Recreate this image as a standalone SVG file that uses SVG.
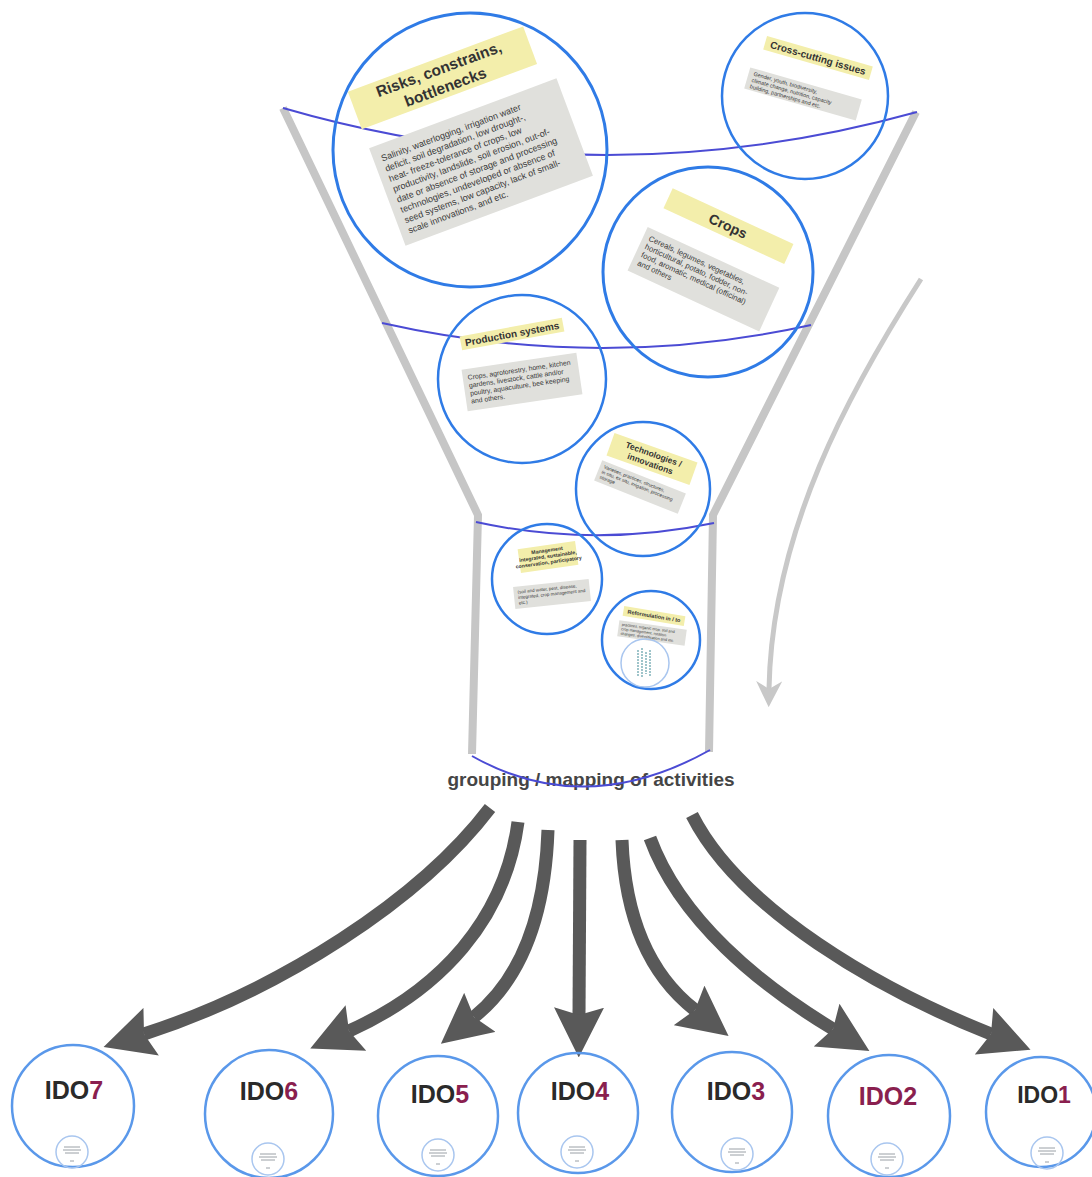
<svg xmlns="http://www.w3.org/2000/svg" xmlns:xlink="http://www.w3.org/1999/xlink" width="1092" height="1177" viewBox="0 0 1092 1177">
<style>
.funnel{fill:none;stroke:#c6c6c6;stroke-width:8;stroke-linejoin:miter}
.band{fill:none;stroke:#4b4bd4;stroke-width:2}
.ring{fill:none;stroke:#2f7be6;stroke-width:3}
.ring2{fill:none;stroke:#2f7be6;stroke-width:2.5}
.ido{fill:none;stroke:#5a98ea;stroke-width:2.5}
.inner{fill:none;stroke:#a9c6ef;stroke-width:1.5}
.lbl{fill:#f3eeab}
.box{fill:#e0e0dc}
.h{font-family:"Liberation Sans",Arial,sans-serif;font-weight:bold;fill:#333;text-anchor:middle}
.b{font-family:"Liberation Sans",Arial,sans-serif;fill:#3a3a3a}
.flow{fill:none;stroke:#595959;stroke-width:13}
.curve{fill:none;stroke:#c8c8c8;stroke-width:5}
.idt{font-family:"Liberation Sans",Arial,sans-serif;font-weight:bold;font-size:25px;fill:#2a2a2a;text-anchor:middle}
.n{fill:#8a1f4f}
.grp{font-family:"Liberation Sans",Arial,sans-serif;font-weight:bold;font-size:19px;fill:#454545;text-anchor:middle}
.mk{stroke:#9aa0a6;stroke-width:1}
</style>
<defs>
<marker id="ah" viewBox="0 0 20 20" markerUnits="userSpaceOnUse" markerWidth="50" markerHeight="50" refX="3" refY="10" orient="auto">
<path d="M0,0 L20,10 L0,20 L3,10 z" fill="#595959"/>
</marker>
<marker id="ah2" viewBox="0 0 10 10" markerUnits="userSpaceOnUse" markerWidth="26" markerHeight="26" refX="3" refY="5" orient="auto">
<path d="M0,0 L10,5 L0,10 L3,5 z" fill="#c8c8c8"/>
</marker>
<g id="mini">
<circle class="inner" cx="0" cy="0" r="16"/>
<path class="mk" d="M-8,-5 H8 M-9,-2 H9 M-7,1 H7 M-2,9 H2"/>
</g>
</defs>

<g id="funnel">
<polyline class="funnel" points="283,108 478,515 472,754"/>
<polyline class="funnel" points="916,112 713,515 709,752"/>
</g>

<text class="grp" x="591" y="786">grouping / mapping of activities</text>

<g id="bands">
<path class="band" d="M283,108 Q600,200 917,112"/>
<path class="band" d="M382,323 Q600,372 811,325"/>
<path class="band" d="M476,522 Q595,548 714,523"/>
<path class="band" d="M472,756 Q585,820 710,750"/>
</g>

<g id="risks">
<circle class="ring" cx="470" cy="150" r="137"/>
<g transform="translate(442,78) rotate(-20.4)">
<rect class="lbl" x="-93" y="-20" width="187" height="40"/>
<text class="h" font-size="15.5"><tspan x="0" y="-4">Risks, constrains,</tspan><tspan x="0" y="15">bottlenecks</tspan></text>
</g>
<g transform="translate(481,162) rotate(-20.5)">
<rect class="box" x="-100" y="-52" width="200" height="104"/>
<text class="b" font-size="9">
<tspan x="-92" y="-35">Salinity, waterlogging, irrigation water</tspan>
<tspan x="-92" y="-24">deficit, soil degradation, low drought-,</tspan>
<tspan x="-92" y="-13">heat- freeze-tolerance of crops, low</tspan>
<tspan x="-92" y="-2">productivity, landslide, soil erosion, out-of-</tspan>
<tspan x="-92" y="9">date or absence of storage and processing</tspan>
<tspan x="-92" y="20">technologies, undeveloped or absence of</tspan>
<tspan x="-92" y="31">seed systems, low capacity, lack of small-</tspan>
<tspan x="-92" y="42">scale innovations, and etc.</tspan>
</text>
</g>
</g>

<g id="cross-cutting">
<circle class="ring2" cx="805" cy="96" r="83"/>
<g transform="translate(818,58) rotate(16)">
<rect class="lbl" x="-55" y="-7" width="110" height="14"/>
<text class="h" font-size="10" x="0" y="3.5">Cross-cutting issues</text>
</g>
<g transform="translate(803,94) rotate(16)">
<rect class="box" x="-58" y="-11" width="116" height="22"/>
<text class="b" font-size="5.5">
<tspan x="-53" y="-4">Gender, youth, biodiversity,</tspan>
<tspan x="-53" y="2.5">climate change, nutrition, capacity</tspan>
<tspan x="-53" y="9">building, partnerships and etc.</tspan>
</text>
</g>
</g>

<g id="crops">
<circle class="ring" cx="708" cy="272" r="105"/>
<g transform="translate(728,226) rotate(24.8)">
<rect class="lbl" x="-66" y="-11" width="133" height="22"/>
<text class="h" font-size="14" x="0" y="5">Crops</text>
</g>
<g transform="translate(703,279) rotate(24.8)">
<rect class="box" x="-72" y="-24" width="145" height="48"/>
<text class="b" font-size="7.8">
<tspan x="-66" y="-12">Cereals, legumes, vegetables,</tspan>
<tspan x="-66" y="-3">horticultural, potato, fodder, non-</tspan>
<tspan x="-66" y="6">food, aromatic, medical (officinal)</tspan>
<tspan x="-66" y="15">and others</tspan>
</text>
</g>
</g>

<g id="production-systems">
<circle class="ring2" cx="522" cy="379" r="84"/>
<g transform="translate(512,334) rotate(-10.5)">
<rect class="lbl" x="-52" y="-7" width="104" height="14"/>
<text class="h" font-size="10" x="0" y="3.5">Production systems</text>
</g>
<g transform="translate(522,382) rotate(-8.4)">
<rect class="box" x="-58" y="-21" width="116" height="42"/>
<text class="b" font-size="6.8">
<tspan x="-53" y="-10">Crops, agroforestry, home, kitchen</tspan>
<tspan x="-53" y="-2">gardens, livestock, cattle and/or</tspan>
<tspan x="-53" y="6">poultry, aquaculture, bee keeping</tspan>
<tspan x="-53" y="14">and others.</tspan>
</text>
</g>
</g>

<g id="technologies">
<circle class="ring2" cx="643" cy="489" r="67"/>
<g transform="translate(652,459) rotate(19.5)">
<rect class="lbl" x="-44" y="-12" width="88" height="24"/>
<text class="h" font-size="8.5"><tspan x="0" y="-2">Technologies /</tspan><tspan x="0" y="8">innovations</tspan></text>
</g>
<g transform="translate(640,487) rotate(21.7)">
<rect class="box" x="-45" y="-11" width="90" height="22"/>
<text class="b" font-size="4.8">
<tspan x="-41" y="-4">Varieties, practices, structures,</tspan>
<tspan x="-41" y="1.5">in situ, ex situ, irrigation, processing</tspan>
<tspan x="-41" y="7">storage</tspan>
</text>
</g>
</g>

<g id="management">
<circle class="ring2" cx="547" cy="579" r="55"/>
<g transform="translate(548,557) rotate(-8)">
<rect class="lbl" x="-29" y="-12" width="58" height="24"/>
<text class="h" font-size="5.2"><tspan x="0" y="-5">Management</tspan><tspan x="0" y="1">integrated, sustainable,</tspan><tspan x="0" y="7">conservation, participatory</tspan></text>
</g>
<g transform="translate(552,594) rotate(-6)">
<rect class="box" x="-38" y="-11" width="76" height="22"/>
<text class="b" font-size="4.5">
<tspan x="-34" y="-4">(soil and water, pest, disease,</tspan>
<tspan x="-34" y="1.5">integrated, crop management and</tspan>
<tspan x="-34" y="7">etc.)</tspan>
</text>
</g>
</g>

<g id="reformulation">
<circle class="ring2" cx="651" cy="640" r="49"/>
<g transform="translate(654,616) rotate(9.5)">
<rect class="lbl" x="-31" y="-5" width="62" height="10"/>
<text class="h" font-size="5.5" x="0" y="2">Reformulation in / to</text>
</g>
<g transform="translate(652,633) rotate(8)">
<rect class="box" x="-34" y="-8" width="68" height="16"/>
<text class="b" font-size="3.8">
<tspan x="-31" y="-3">practices, organic crop, soil and</tspan>
<tspan x="-31" y="1.5">crop management, rotation</tspan>
<tspan x="-31" y="6">changes, diversification and etc.</tspan>
</text>
</g>
<circle class="inner" cx="645" cy="663" r="24"/>
<path d="M638,650 V676 M642,648 V678 M646,652 V674 M650,650 V677" stroke="#5f9ea8" stroke-width="1.2" stroke-dasharray="2 1"/>
</g>

<g id="connectors">
<path class="flow" d="M490,808 C420,900 280,990 144,1034" marker-end="url(#ah)"/>
<path class="flow" d="M518,822 C505,920 440,990 349,1031" marker-end="url(#ah)"/>
<path class="flow" d="M548,830 C545,920 520,980 474,1017" marker-end="url(#ah)"/>
<path class="flow" d="M580,840 L579,1015" marker-end="url(#ah)"/>
<path class="flow" d="M622,840 C625,920 650,975 695,1010" marker-end="url(#ah)"/>
<path class="flow" d="M650,838 C680,920 760,985 833,1029" marker-end="url(#ah)"/>
<path class="flow" d="M692,815 C740,910 880,990 991,1034" marker-end="url(#ah)"/>
<path class="curve" d="M921,279 C850,390 772,530 769,689" marker-end="url(#ah2)"/>
</g>

<g id="ido7">
<circle class="ido" cx="73" cy="1106" r="61"/>
<text class="idt" x="74" y="1099">IDO<tspan class="n">7</tspan></text>
<use xlink:href="#mini" x="72" y="1152"/>
</g>
<g id="ido6">
<circle class="ido" cx="269" cy="1114" r="64"/>
<text class="idt" x="269" y="1100">IDO<tspan class="n">6</tspan></text>
<use xlink:href="#mini" x="268" y="1159"/>
</g>
<g id="ido5">
<circle class="ido" cx="438" cy="1116" r="60"/>
<text class="idt" x="440" y="1103">IDO<tspan class="n">5</tspan></text>
<use xlink:href="#mini" x="438" y="1155"/>
</g>
<g id="ido4">
<circle class="ido" cx="578" cy="1113" r="60"/>
<text class="idt" x="580" y="1100">IDO<tspan class="n">4</tspan></text>
<use xlink:href="#mini" x="577" y="1152"/>
</g>
<g id="ido3">
<circle class="ido" cx="732" cy="1112" r="60"/>
<text class="idt" x="736" y="1100">IDO<tspan class="n">3</tspan></text>
<use xlink:href="#mini" x="737" y="1154"/>
</g>
<g id="ido2">
<circle class="ido" cx="889" cy="1116" r="61"/>
<text class="idt n" x="888" y="1105">IDO2</text>
<use xlink:href="#mini" x="887" y="1159"/>
</g>
<g id="ido1">
<circle class="ido" cx="1041" cy="1112" r="55"/>
<text class="idt" x="1044" y="1103" style="font-size:23px">IDO<tspan class="n">1</tspan></text>
<use xlink:href="#mini" x="1047" y="1153"/>
</g>
</svg>
